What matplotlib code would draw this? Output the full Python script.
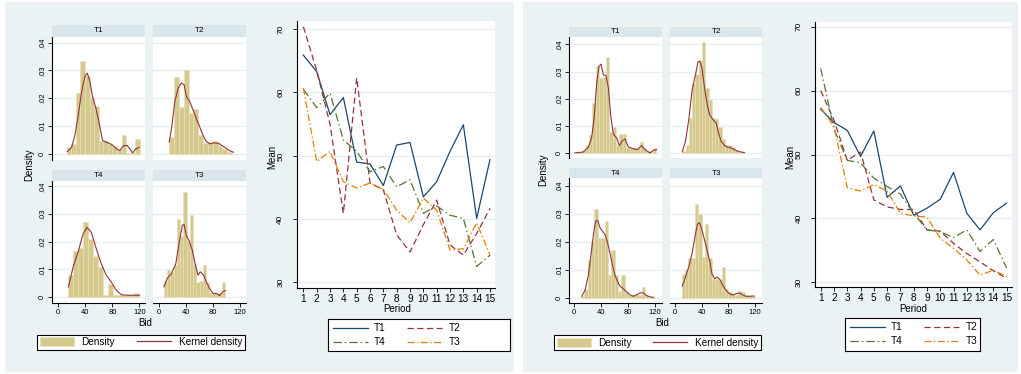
import numpy as np
import matplotlib
matplotlib.use('Agg')
import matplotlib.pyplot as plt
from matplotlib.patches import Rectangle, Patch
from matplotlib.lines import Line2D

plt.rcParams['font.family'] = ['Liberation Sans', 'DejaVu Sans']
plt.rcParams['lines.scale_dashes'] = False

W, H = 1021, 374

# ---------------- data ----------------
periods = list(range(1, 16))

# mean bid per period, left figure
a_t1 = [65.9, 63.3, 56.5, 59.2, 49.0, 48.7, 45.3, 51.7, 52.1, 43.5, 45.9, 50.7, 54.9, 40.1, 49.4]
a_t2 = [70.4, 63.5, 55.0, 40.9, 62.3, 45.7, 44.6, 37.5, 34.8, 39.1, 43.0, 35.9, 34.3, 37.7, 41.7]
a_t4 = [60.5, 57.6, 59.9, 52.5, 50.7, 47.5, 48.3, 45.1, 46.2, 40.9, 42.1, 40.6, 40.1, 32.5, 34.3]
a_t3 = [60.7, 49.1, 50.7, 45.9, 44.9, 45.7, 44.7, 41.4, 39.4, 43.3, 41.4, 35.1, 35.3, 39.4, 34.3]

# mean bid per period, right figure
b_t1 = [57.1, 55.0, 53.8, 49.7, 53.7, 43.3, 45.1, 40.5, 41.6, 43.0, 47.2, 40.8, 38.2, 40.9, 42.4]
b_t2 = [60.0, 55.4, 49.1, 50.4, 42.9, 41.8, 41.4, 41.4, 38.2, 38.0, 36.1, 34.5, 33.2, 31.8, 30.6]
b_t4 = [63.5, 54.0, 49.1, 48.7, 46.3, 45.0, 43.8, 40.8, 38.2, 37.9, 37.0, 38.2, 34.8, 36.7, 32.2]
b_t3 = [57.4, 54.4, 44.8, 44.3, 45.3, 44.3, 40.8, 40.4, 40.2, 36.9, 35.3, 33.5, 31.1, 31.9, 30.9]

# bid histograms (first bin edge, bin width, densities) and kernel density curves
a_t1_start, a_t1_width = 12.3, 6.78
a_t1_hist = [.0024, .0036, .022, .0333, .028, .0206, .0172, .0048, .0045, .0036, .0027, .0018, .0067, .0004, .0008, .0053]
a_t1_kx = [13.3, 19.7, 24.6, 29.6, 34.5, 39.4, 42.9, 46.8, 50.7, 55.7, 60.6, 65.5, 71.4, 78.8, 86.2, 91.1, 97, 102, 105.9, 109.9, 114.8, 119.7]
a_t1_ky = [.0008, .0024, .0067, .014, .0224, .0279, .029, .026, .0206, .0164, .0109, .0048, .0042, .0034, .0018, .0012, .003, .003, .0018, .0004, .0018, .0023]

a_t2_start, a_t2_width = 14.7, 7.2
a_t2_hist = [.006, .0276, .017, .030, .0148, .0162, .0067, .004, .0042, .0045, .003, .0018, .0008]
a_t2_kx = [14.7, 18.2, 23.1, 28, 32.9, 36.9, 40.3, 45.2, 50.1, 55.1, 60, 64.9, 69.8, 74.7, 82.1, 89.5, 96.9, 104.2, 110]
a_t2_ky = [.0042, .0091, .0188, .0236, .0255, .0248, .0206, .0188, .0158, .0127, .0097, .0067, .0045, .0036, .004, .0036, .0024, .0012, .0006]

a_t4_start, a_t4_width = 14, 7.5
a_t4_hist = [.0078, .0168, .0178, .027, .021, .0147, .011, .0006, .0048, .0006, .0006, .0006, .0006, .0016]
a_t4_kx = [15, 21.9, 29.2, 36.6, 42.5, 48.9, 56.3, 63.7, 71.1, 78.5, 85.9, 93.3, 103.1, 113, 120.4]
a_t4_ky = [.0036, .0108, .0162, .0228, .0252, .0234, .0174, .012, .0078, .0054, .0024, .0008, .0006, .0006, .0006]

a_t3_start, a_t3_width = 6.9, 4.81
a_t3_hist = [.0058, .0097, .009, .0115, .0282, .022, .038, .0204, .0298, .012, .0055, .0057, .0117, .0055, .0013, .0013, .0013, .0013, .0055]
a_t3_kx = [6.9, 11.8, 18.2, 24.6, 30.5, 34.4, 36.9, 40.3, 44.2, 49.2, 52.6, 57.5, 61, 65.9, 69.8, 74.7, 79.6, 84.6, 89.5, 94.4, 98.3]
a_t3_ky = [.0037, .0067, .0085, .0121, .021, .026, .0262, .0222, .0204, .0168, .0127, .0079, .0091, .0079, .0055, .0031, .0013, .0013, .0005, .0019, .0023]

b_t1_start, b_t1_width = 2, 5
b_t1_hist = [.0003, .0004, .0012, .003, .0068, .0183, .032, .0276, .028, .0355, .0076, .0095, .0028, .007, .007, .002, .002, .0018, .002, .0042, .002, .0007, .0005, .0018]
b_t1_kx = [1, 13.4, 20.9, 25.8, 29.3, 33.3, 36.7, 39.7, 43.2, 47.1, 50.6, 54.1, 58, 63, 66.9, 71.9, 75.4, 80.3, 87.7, 93.7, 100.1, 105.1, 112.5, 117.4, 122.4]
b_t1_ky = [.0001, .0004, .0022, .0058, .0125, .0258, .0319, .0327, .0288, .0285, .024, .0137, .007, .0055, .0028, .0046, .0052, .0022, .0016, .0013, .0028, .0012, .0001, .001, .0013]

b_t2_start, b_t2_width = 10.9, 4.93
b_t2_hist = [.0007, .003, .013, .0257, .029, .034, .0407, .024, .0195, .013, .0125, .0095, .0052, .0028, .0028, .0022, .001, .0005, .0005]
b_t2_kx = [10.9, 15.8, 20.7, 25.7, 30.6, 34.6, 37.5, 40.5, 44.4, 48.4, 51.9, 56.8, 61.7, 65.2, 69.1, 74.1, 79, 84, 88.9, 93.8, 98.8, 103.7]
b_t2_ky = [.0005, .0044, .0123, .0232, .0287, .0336, .0338, .0311, .0238, .0178, .0141, .0123, .0111, .0074, .0044, .0028, .0022, .0019, .0013, .0007, .0004, .0002]

b_t4_start, b_t4_width = 10, 5
b_t4_hist = [.0006, .0033, .0135, .0202, .0317, .0214, .0214, .0274, .0081, .0172, .0083, .0025, .0081, .002, .0012, .0012, .001, .0012, .0039, .001, .0005, .0003]
b_t4_kx = [11, 15.9, 20.9, 24.8, 28.8, 31.8, 34.7, 38.2, 41.7, 45.6, 49.6, 53.1, 56.6, 60.5, 64.5, 68, 72.9, 77.9, 82.8, 87.8, 92.7, 97.7, 102.6, 107.6, 112.5, 117.5]
b_t4_ky = [.0006, .0027, .0081, .0154, .0233, .0275, .0278, .0251, .0239, .0227, .0196, .016, .0118, .0081, .0057, .0042, .0033, .0021, .0011, .0006, .0011, .0018, .0018, .0008, .0004, .0002]

b_t3_start, b_t3_width = 10, 5
b_t3_hist = [.0084, .01, .0142, .0142, .0336, .03, .0148, .0263, .0142, .0069, .0069, .0069, .0112, .0033, .002, .0015, .001, .0025, .0023, .001, .0008, .0008]
b_t3_kx = [10.9, 15.8, 20.7, 25.7, 30.6, 33.6, 36.5, 39.5, 43.5, 48.4, 51.9, 55.3, 59.3, 63.2, 68.1, 71.6, 76.5, 81.5, 86.4, 91.4, 96.3, 101.2, 106.2, 111.1, 118.5]
b_t3_ky = [.0042, .0075, .0112, .016, .0227, .0263, .0269, .0251, .0215, .0168, .0132, .0087, .0069, .0075, .0063, .0045, .0027, .0015, .0011, .0015, .0018, .0011, .0006, .0006, .0007]

density_ticks = [0, .01, .02, .03, .04]
density_labels = ['0', '.01', '.02', '.03', '.04']
bid_ticks = [0, 40, 80, 120]
mean_ticks = [30, 40, 50, 60, 70]

# ---------------- style ----------------
BG = '#eaf2f3'
STRIP = '#d9e6eb'
GRID = '#e6eff1'
KHAKI = '#d5c98e'
KHAKI_EDGE = '#e8e0b8'
MAROON = '#90353b'
LINE_STYLES = {
    'T1': dict(color='#1a476f', linestyle='-'),
    'T2': dict(color='#90353b', dashes=(4.5, 2.5)),
    'T4': dict(color='#55752f', dashes=(6, 2.2, 1, 2.2)),
    'T3': dict(color='#e37e00', dashes=(5, 1.8, 1, 1.8)),
}

fig = plt.figure(figsize=(W / 100, H / 100), dpi=100)


def box(x0, y0, x1, y1):
    # pixel box (top-left origin) -> figure fraction
    return [x0 / W, 1 - y1 / H, (x1 - x0) / W, (y1 - y0) / H]


for x0, x1 in [(5, 514), (523, 1018)]:
    fig.patches.append(Rectangle((x0 / W, 1 - 372 / H), (x1 - x0) / W, 370 / H,
                                 transform=fig.transFigure, facecolor=BG,
                                 edgecolor='none', zorder=-10))


def draw_hist(rect, strip, label, start, width, heights, kx, ky, xlim, ylim, first_col, last_row):
    ax = fig.add_axes(box(*rect))
    edges = start + width * np.arange(len(heights))
    ax.bar(edges, heights, width=width, align='edge', color=KHAKI,
           edgecolor=KHAKI_EDGE, linewidth=0.4, zorder=2)
    ax.plot(kx, ky, color=MAROON, lw=0.8, zorder=3)
    ax.set_xlim(*xlim)
    ax.set_ylim(*ylim)
    ax.set_yticks(density_ticks)
    ax.yaxis.grid(True, color=GRID, lw=1.0)
    ax.set_axisbelow(True)
    for s in ['top', 'right']:
        ax.spines[s].set_visible(False)
    ax.spines['left'].set_visible(first_col)
    ax.spines['bottom'].set_visible(last_row)
    if first_col:
        ax.set_yticklabels(density_labels, rotation=90, va='center', fontsize=5.5)
        ax.tick_params(axis='y', length=3, width=0.6, pad=1.5)
    else:
        ax.tick_params(axis='y', length=0, labelleft=False)
    if last_row:
        ax.set_xticks(bid_ticks)
        ax.tick_params(axis='x', length=3, width=0.6, pad=1.5, labelsize=5.5)
    else:
        ax.set_xticks([])
    sx = fig.add_axes(box(*strip))
    sx.set_facecolor(STRIP)
    sx.set_xticks([])
    sx.set_yticks([])
    for s in sx.spines.values():
        s.set_visible(False)
    sx.text(0.5, 0.5, label, ha='center', va='center', fontsize=5.8, transform=sx.transAxes)
    return ax


def draw_means(rect, xlim, ylim, series):
    ax = fig.add_axes(box(*rect))
    for name, vals in series:
        ax.plot(periods, vals, lw=0.9, label=name, **LINE_STYLES[name])
    ax.set_xlim(*xlim)
    ax.set_ylim(*ylim)
    ax.set_xticks(periods)
    ax.set_yticks(mean_ticks)
    ax.set_yticklabels([str(v) for v in mean_ticks], rotation=90, va='center', fontsize=6)
    ax.yaxis.grid(True, color=GRID, lw=1.0)
    ax.set_axisbelow(True)
    for s in ['top', 'right']:
        ax.spines[s].set_visible(False)
    ax.tick_params(axis='x', length=3, width=0.6, pad=1.5, labelsize=7.2)
    ax.tick_params(axis='y', length=3, width=0.6, pad=6)
    return ax


def hist_legend(rect):
    lx = fig.add_axes(box(*rect))
    lx.axis('off')
    handles = [Patch(facecolor=KHAKI, edgecolor=KHAKI_EDGE, lw=0.4),
               Line2D([], [], color=MAROON, lw=0.9)]
    leg = lx.legend(handles, ['Density', 'Kernel density'], ncol=2, loc='center',
                    mode='expand', bbox_to_anchor=(0, 0, 1, 1), borderaxespad=0,
                    fontsize=7.2, handlelength=3.4, handleheight=1.0, columnspacing=1.5,
                    handletextpad=0.8, borderpad=0.25, fancybox=False, edgecolor='black',
                    framealpha=1)
    leg.get_frame().set_linewidth(0.8)


def means_legend(ax, rect):
    # white box with black frame, keys laid out from its left edge
    lx = fig.add_axes(box(*rect))
    lx.set_facecolor('white')
    lx.set_xticks([])
    lx.set_yticks([])
    for s in lx.spines.values():
        s.set_linewidth(0.8)
        s.set_color('black')
    h, l = ax.get_legend_handles_labels()
    order = [l.index(n) for n in ['T1', 'T4', 'T2', 'T3']]
    lx.legend([h[i] for i in order], [l[i] for i in order], ncol=2, loc='center left',
              bbox_to_anchor=(0, 0.5), borderaxespad=0, frameon=False,
              fontsize=7.2, handlelength=3.5, columnspacing=2.2, handletextpad=0.6,
              labelspacing=0.4, borderpad=0.45)


# ---------------- left figure ----------------
xl_a = (-8.9, 128.4)
yl_a = (-.0022, .0421)
draw_hist((52.3, 36.7, 145, 160), (52.3, 25, 145, 36.7), 'T1', a_t1_start, a_t1_width, a_t1_hist, a_t1_kx, a_t1_ky, xl_a, yl_a, True, False)
draw_hist((153.3, 36.7, 245.7, 160), (153.3, 25, 245.7, 36.7), 'T2', a_t2_start, a_t2_width, a_t2_hist, a_t2_kx, a_t2_ky, xl_a, yl_a, False, False)
draw_hist((52.3, 180.7, 145, 303), (52.3, 170, 145, 180.7), 'T4', a_t4_start, a_t4_width, a_t4_hist, a_t4_kx, a_t4_ky, xl_a, yl_a, True, True)
draw_hist((153.3, 180.7, 245.7, 303), (153.3, 170, 245.7, 180.7), 'T3', a_t3_start, a_t3_width, a_t3_hist, a_t3_kx, a_t3_ky, xl_a, yl_a, False, True)
fig.text(29 / W, 1 - 165 / H, 'Density', rotation=90, ha='center', va='center', fontsize=7)
fig.text(145 / W, 1 - 323 / H, 'Bid', ha='center', va='center', fontsize=7)
hist_legend((37, 333, 245, 351))

ax_a = draw_means((296.7, 21, 495, 288), (0.5, 15.375), (29.1, 71.3),
                  [('T1', a_t1), ('T2', a_t2), ('T4', a_t4), ('T3', a_t3)])
fig.text(272 / W, 1 - 157 / H, 'Mean', rotation=90, ha='center', va='center', fontsize=7)
fig.text(397 / W, 1 - 309.5 / H, 'Period', ha='center', va='center', fontsize=7)
means_legend(ax_a, (328, 319, 510, 351))

# ---------------- right figure ----------------
xl_b = (-7.4, 130.7)
yl_b = (-.0018, .0428)
draw_hist((569.3, 36.7, 662.3, 158), (569.3, 26.7, 662.3, 36.7), 'T1', b_t1_start, b_t1_width, b_t1_hist, b_t1_kx, b_t1_ky, xl_b, yl_b, True, False)
draw_hist((670, 36.7, 762.3, 158), (670, 26.7, 762.3, 36.7), 'T2', b_t2_start, b_t2_width, b_t2_hist, b_t2_kx, b_t2_ky, xl_b, yl_b, False, False)
draw_hist((569.3, 178.3, 662.3, 303), (569.3, 168.3, 662.3, 178.3), 'T4', b_t4_start, b_t4_width, b_t4_hist, b_t4_kx, b_t4_ky, xl_b, yl_b, True, True)
draw_hist((670, 178.3, 762.3, 303), (670, 168.3, 762.3, 178.3), 'T3', b_t3_start, b_t3_width, b_t3_hist, b_t3_kx, b_t3_ky, xl_b, yl_b, False, True)
fig.text(543 / W, 1 - 170 / H, 'Density', rotation=90, ha='center', va='center', fontsize=7)
fig.text(662 / W, 1 - 323 / H, 'Bid', ha='center', va='center', fontsize=7)
hist_legend((554, 334, 761, 351))

ax_b = draw_means((815, 21.7, 1011.7, 287), (0.57, 15.38), (29.26, 70.8),
                  [('T1', b_t1), ('T2', b_t2), ('T4', b_t4), ('T3', b_t3)])
fig.text(790 / W, 1 - 157 / H, 'Mean', rotation=90, ha='center', va='center', fontsize=7)
fig.text(913 / W, 1 - 308.5 / H, 'Period', ha='center', va='center', fontsize=7)
means_legend(ax_b, (845, 318, 980, 351))

fig.savefig('out.png', dpi=100, facecolor='white')
